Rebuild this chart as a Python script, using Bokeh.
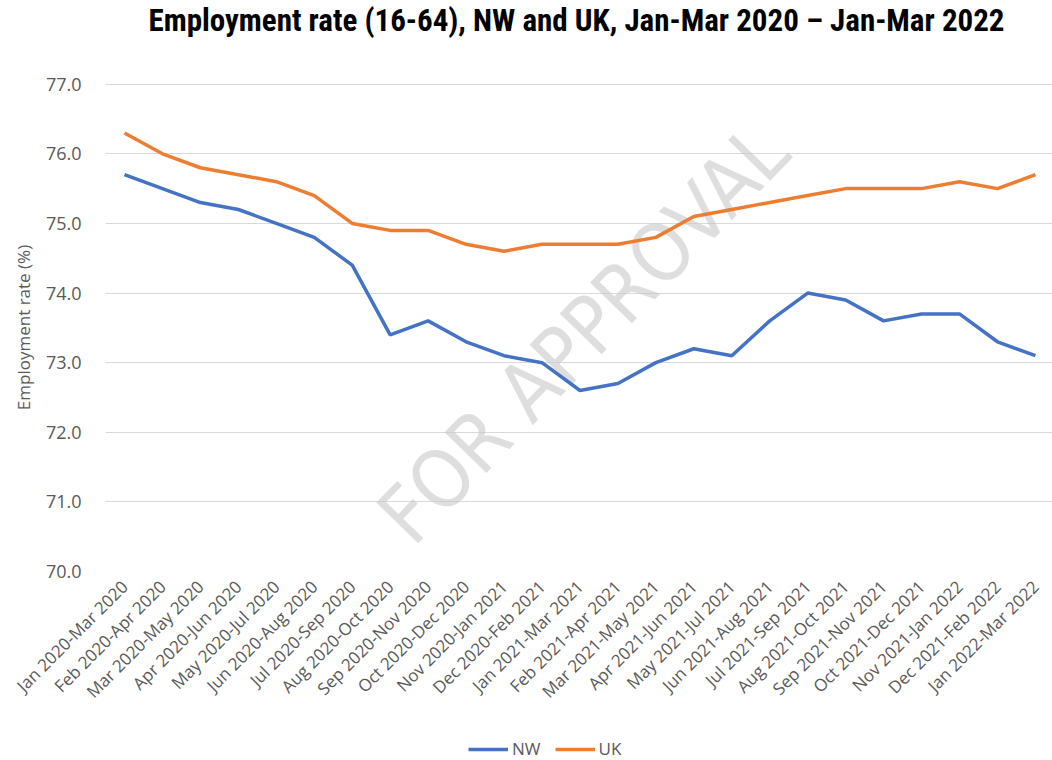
import math
from bokeh.plotting import figure
from bokeh.layouts import column
from bokeh.models import (Range1d, FixedTicker, Label, Legend, LegendItem,
                          NumeralTickFormatter, ColumnDataSource)
from bokeh.embed import file_html
from bokeh.resources import INLINE

periods = [
    "Jan 2020-Mar 2020", "Feb 2020-Apr 2020", "Mar 2020-May 2020", "Apr 2020-Jun 2020",
    "May 2020-Jul 2020", "Jun 2020-Aug 2020", "Jul 2020-Sep 2020", "Aug 2020-Oct 2020",
    "Sep 2020-Nov 2020", "Oct 2020-Dec 2020", "Nov 2020-Jan 2021", "Dec 2020-Feb 2021",
    "Jan 2021-Mar 2021", "Feb 2021-Apr 2021", "Mar 2021-May 2021", "Apr 2021-Jun 2021",
    "May 2021-Jul 2021", "Jun 2021-Aug 2021", "Jul 2021-Sep 2021", "Aug 2021-Oct 2021",
    "Sep 2021-Nov 2021", "Oct 2021-Dec 2021", "Nov 2021-Jan 2022", "Dec 2021-Feb 2022",
    "Jan 2022-Mar 2022",
]
nw = [75.7, 75.5, 75.3, 75.2, 75.0, 74.8, 74.4, 73.4, 73.6, 73.3, 73.1, 73.0, 72.6,
      72.7, 73.0, 73.2, 73.1, 73.6, 74.0, 73.9, 73.6, 73.7, 73.7, 73.3, 73.1]
uk = [76.3, 76.0, 75.8, 75.7, 75.6, 75.4, 75.0, 74.9, 74.9, 74.7, 74.6, 74.7, 74.7,
      74.7, 74.8, 75.1, 75.2, 75.3, 75.4, 75.5, 75.5, 75.5, 75.6, 75.5, 75.7]
y_ticks = [70, 71, 72, 73, 74, 75, 76, 77]
series_names = ["NW", "UK"]
series_colors = ["#4472C4", "#ED7D31"]
title_text = "Employment rate (16-64), NW and UK, Jan-Mar 2020 \u2013 Jan-Mar 2022"

idx = list(range(len(periods)))
src = ColumnDataSource(dict(x=idx, nw=nw, uk=uk))

W = 1052
H_TOP, H_MAIN, H_LEG = 44, 692, 24
LEFT = 105

# ---- title strip ----
pt = figure(width=W, height=H_TOP, output_backend="svg", toolbar_location=None,
            x_axis_type=None, y_axis_type=None, x_range=Range1d(0, 1), y_range=Range1d(0, 1),
            min_border_left=LEFT, min_border_right=0, min_border_top=0, min_border_bottom=0)
pt.outline_line_color = None
pt.grid.visible = False
pt.add_layout(Label(x=576 - LEFT, y=H_TOP - 20, x_units="screen", y_units="screen",
                    text=title_text, text_align="center", text_baseline="middle",
                    text_font="'Liberation Sans Narrow', 'Roboto Condensed', Roboto",
                    text_font_style="bold", text_font_size="31px", text_color="#000000"))

# ---- main chart ----
p = figure(width=W, height=H_MAIN, output_backend="svg", toolbar_location=None,
           x_range=Range1d(-0.5, 24.45), y_range=Range1d(70, 77.01),
           min_border_left=LEFT, min_border_right=0, min_border_top=83 - H_TOP,
           min_border_bottom=H_MAIN - (571 - H_TOP))
p.outline_line_color = None
p.background_fill_color = "white"
p.border_fill_color = "white"

# watermark (screen px relative to the frame), kept fully inside the plot area
wm = Label(x=478, y=238, x_units="screen", y_units="screen", text="FOR APPROVAL",
           angle=0.8, text_align="center", text_baseline="middle",
           text_font="DejaVu Sans Condensed", text_font_size="80px",
           text_color="#c8c8c8", text_alpha=0.6, level="annotation")
p.add_layout(wm)

p.line("x", "nw", source=src, line_color=series_colors[0], line_width=3.5, level="overlay")
p.line("x", "uk", source=src, line_color=series_colors[1], line_width=3.5, level="overlay")

p.xgrid.grid_line_color = None
p.ygrid.grid_line_color = "#d9d9d9"
p.ygrid.grid_line_width = 1.2
p.ygrid.ticker = FixedTicker(ticks=y_ticks)

p.yaxis.ticker = FixedTicker(ticks=y_ticks)
p.yaxis.formatter = NumeralTickFormatter(format="0.0")
p.yaxis.axis_label = "Employment rate (%)"
p.yaxis.axis_label_text_font = "Open Sans"
p.yaxis.axis_label_text_font_size = "17px"
p.yaxis.axis_label_text_font_style = "normal"
p.yaxis.axis_label_text_color = "#595959"
p.yaxis.axis_label_standoff = 8

p.xaxis.ticker = FixedTicker(ticks=idx)
p.xaxis.major_label_overrides = {i: s for i, s in enumerate(periods)}
p.xaxis.major_label_orientation = math.pi / 4

for ax in (p.xaxis, p.yaxis):
    ax.axis_line_color = None
    ax.major_tick_line_color = None
    ax.minor_tick_line_color = None
    ax.major_label_text_font = "Open Sans"
    ax.major_label_text_color = "#595959"
p.yaxis.major_label_text_font_size = "18px"
p.yaxis.major_label_standoff = 18
p.xaxis.major_label_text_font_size = "17px"
p.xaxis.major_label_standoff = 6

# ---- legend strip ----
pl = figure(width=W, height=H_LEG, output_backend="svg", toolbar_location=None,
            x_axis_type=None, y_axis_type=None, x_range=Range1d(0, 1), y_range=Range1d(0, 1),
            min_border_left=LEFT, min_border_right=0, min_border_top=0, min_border_bottom=0)
pl.outline_line_color = None
pl.grid.visible = False
leg_r = [pl.line("x", col, source=src, line_color=c, line_width=3.5)
         for col, c in zip(["nw", "uk"], series_colors)]
legend = Legend(items=[LegendItem(label=n, renderers=[r]) for n, r in zip(series_names, leg_r)],
                orientation="horizontal", location=(468 - LEFT, 0),
                label_text_font="Open Sans", label_text_font_size="17px",
                label_text_color="#595959", border_line_color=None,
                background_fill_alpha=0, glyph_width=40, glyph_height=16,
                label_height=16, spacing=14, label_standoff=4, padding=1, margin=0)
pl.add_layout(legend, "center")

layout = column(pt, p, pl, spacing=0)
open("out.html", "w").write(file_html(layout, INLINE))
